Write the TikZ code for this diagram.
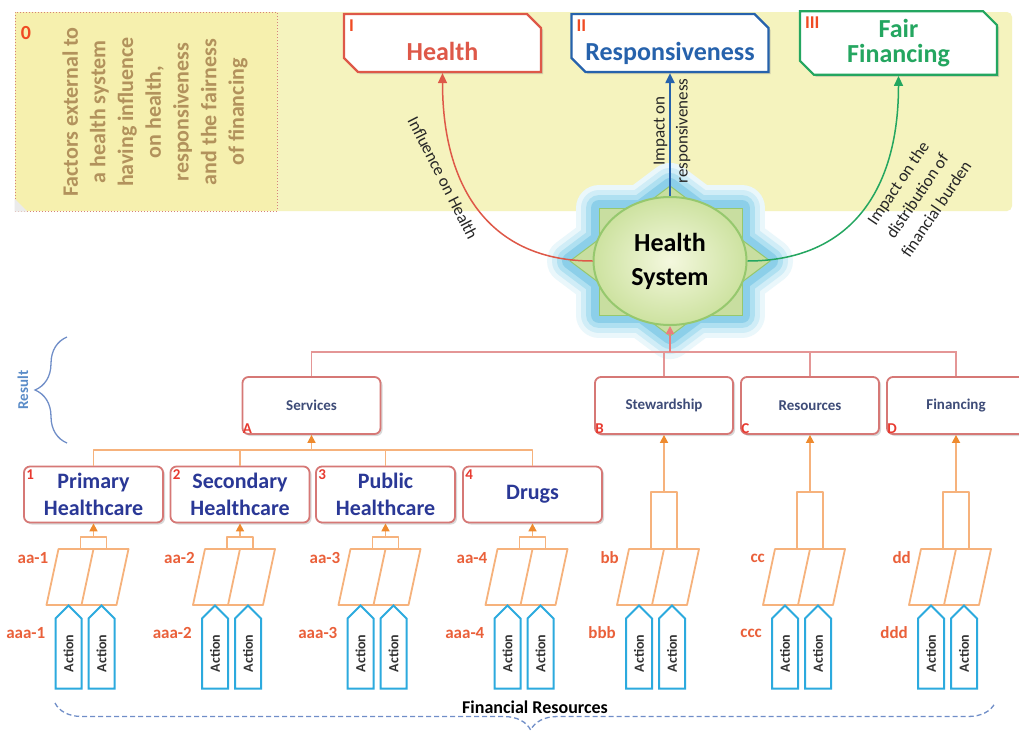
\documentclass[tikz,border=0pt]{standalone}
\usepackage{fontspec}
\setmainfont{Carlito}
\usepackage{xcolor}
\usepackage{tikz}
\usetikzlibrary{decorations.pathreplacing}
\usetikzlibrary{positioning, calc, arrows.meta, shadows, shapes.misc, shapes.symbols, shapes.geometric}

\newcommand{\fsz}[2]{\fontsize{#1}{#2}\selectfont}

\begin{document}
\begin{tikzpicture}[x=1pt, y=-1pt,
        topbox/.style={chamfered rectangle, chamfered rectangle corners={north east, south west},
            chamfered rectangle xsep=7pt, chamfered rectangle ysep=7pt,
            fill=white, line width=2.2pt, minimum width=197pt, minimum height=58pt,
            inner sep=1pt, align=center, font=\bfseries\fsz{26}{25},
            drop shadow={opacity=.3, shadow xshift=2pt, shadow yshift=-2pt}},
        sunk/.style={text height=38pt, text depth=3pt},
        midbox/.style={draw=boxred, line width=1.8pt, fill=white, rounded corners=6pt,
            minimum width=138pt, minimum height=57pt, text=midtext, font=\bfseries\fsz{15}{17},
            drop shadow={opacity=.3, shadow xshift=2pt, shadow yshift=-2pt}},
        lowbox/.style={midbox, minimum width=139pt, minimum height=56pt, inner sep=1pt,
            align=center, text=lowtext, font=\bfseries\fsz{22}{27}},
        roman/.style={text=numred, font=\bfseries\fsz{18}{18}, inner sep=1pt},
        letter/.style={text=letred, font=\bfseries\fsz{15}{15}, inner sep=1pt},
        arrowlab/.style={text=black!85, font=\fsz{17}{23}, inner sep=1pt, align=center},
        treeline/.style={draw=treered, line width=1.8pt},
        cell/.style={draw=cellor, line width=1.8pt, line join=round},
        orarrow/.style={draw=cellor, line width=1.6pt, -{Triangle[length=8pt, width=8pt, color=tipor]}},
        cellno/.style={text=labor, font=\bfseries\fsz{17}{17}, inner sep=1pt},
        action/.style={signal, signal to=east, draw=actblue, line width=2pt, fill=white,
            minimum width=83pt, minimum height=26pt, inner sep=1pt, rotate=90,
            text=black!80, font=\bfseries\fsz{14}{14}},
    ]
    % colours
    \definecolor{yellowbg}{RGB}{245,243,190}
    \definecolor{notefill}{RGB}{246,240,174}
    \definecolor{notered}{RGB}{214,130,120}
    \definecolor{notebrown}{RGB}{178,146,92}
    \definecolor{numred}{RGB}{240,75,35}
    \definecolor{healthred}{RGB}{222,88,72}
    \definecolor{respblue}{RGB}{38,98,172}
    \definecolor{fairgreen}{RGB}{36,166,96}
    \definecolor{hsgreen}{RGB}{150,200,110}
    \definecolor{hsin}{RGB}{244,248,222}
    \definecolor{hsout}{RGB}{205,226,160}
    \definecolor{starfill}{RGB}{200,222,160}
    \definecolor{glowa}{RGB}{234,247,251}
    \definecolor{glowb}{RGB}{208,237,247}
    \definecolor{glowc}{RGB}{175,224,241}
    \definecolor{glowd}{RGB}{140,207,233}
    \definecolor{boxred}{RGB}{214,120,118}
    \definecolor{treered}{RGB}{228,150,150}
    \definecolor{treetip}{RGB}{235,125,125}
    \definecolor{midtext}{RGB}{62,76,120}
    \definecolor{lowtext}{RGB}{42,56,150}
    \definecolor{cellor}{RGB}{246,178,124}
    \definecolor{tipor}{RGB}{238,138,46}
    \definecolor{labor}{RGB}{234,96,58}
    \definecolor{actblue}{RGB}{44,170,222}
    \definecolor{braceblue}{RGB}{112,142,200}
    \definecolor{resultblue}{RGB}{90,140,200}
    \definecolor{letred}{RGB}{232,58,48}

    \useasboundingbox (0,0) rectangle (1019,731);
    \clip (0,0) rectangle (1019,731);
    \fill[white] (0,0) rectangle (1019,731);

    % yellow band behind the goals
    \fill[yellowbg, rounded corners=5pt] (15,12) rectangle (1012,211);

    % 0. external factors
    \node[draw=notered, dotted, line width=1pt, fill=notefill, minimum width=262pt,
        minimum height=199pt, inner sep=0pt] (note) at (146,111.5) {};
    \fill[white!92!black] (note.south west) -- ++(0,-13) -- ++(13,13) -- cycle;
    \node[text=numred, font=\bfseries\fsz{20}{20}, inner sep=0pt] (zero) at (26,33) {0};
    \node[rotate=90, align=center, text=notebrown, font=\bfseries\fsz{22}{27.7}] (notetxt) at (155,112)
        {Factors external to\\a health system\\having influence\\on health,\\responsiveness\\and the fairness\\of financing};

    % I, II, III the three goals
    \node[topbox, draw=healthred, text=healthred, sunk] (health) at (442.5,43) {Health};
    \node[topbox, draw=respblue, text=respblue, sunk] (respons) at (670,43) {Responsiveness};
    \node[topbox, draw=fairgreen, text=fairgreen] (fairfin) at (898.5,43) {Fair\\Financing};
    \foreach \nm/\rn in {health/I, respons/II, fairfin/III}
        \node[roman, anchor=north west, xshift=5pt, yshift=-6pt] (\nm-no) at (\nm.north west) {\rn};

    % health system star with its glow
    \foreach \w/\c in {46/glowa, 36/glowb, 26/glowc, 16/glowd} {
        \filldraw[draw=\c, fill=\c, line width=\w pt, line join=round] (599,208) rectangle (742,315);
        \filldraw[draw=\c, fill=\c, line width=\w pt, line join=round]
            (670,186) -- (770,261) -- (670,336) -- (570,261) -- cycle;
    }
    \filldraw[fill=starfill, draw=hsgreen, line width=1pt] (599,208) rectangle (742,315);
    \filldraw[fill=starfill, draw=hsgreen, line width=1pt]
        (670,186) -- (770,261) -- (670,336) -- (570,261) -- cycle;
    \node[ellipse, shade, inner color=hsin, outer color=hsout, draw=hsgreen, line width=2pt,
        minimum width=153pt, minimum height=128pt, inner sep=0pt, align=center,
        font=\bfseries\fsz{26}{34}] (hsys) at (670,261) {Health\\System};

    % impacts on the goals
    \draw[healthred, line width=1.5pt, -{Triangle[length=10pt, width=9pt]}]
        (hsys.west) .. controls +(-100,0) and +(0,118) .. (health.south);
    \draw[respblue, line width=2pt, -{Triangle[length=10pt, width=9pt]}] (hsys.north) -- (respons.south);
    \draw[fairgreen, line width=1.5pt, -{Triangle[length=10pt, width=9pt]}]
        (hsys.east) .. controls +(100,0) and +(0,118) .. (fairfin.south);
    \node[arrowlab, rotate=-63] (inflab) at (443,178) {Influence on Health};
    \node[arrowlab, rotate=90] (resplab) at (672,131) {Impact on\\responsiveness};
    \node[arrowlab, rotate=56] (fairlab) at (917,196) {Impact on the\\distribution of\\financial burden};

    % A-D functions
    \foreach \nm/\txt/\x/\lt in {services/Services/311.5/A, stewardship/Stewardship/664/B,
            resources/Resources/810/C, financing/Financing/956/D} {
        \node[midbox] (\nm) at (\x,405.5) {\txt};
        \node[letter, anchor=south west] (\nm-lt) at (\nm.south west) {\lt};
    }
    \coordinate (hsjoin) at (670,352);
    \draw[treeline] (services.north) |- (hsjoin) -| (financing.north);
    \draw[treeline] (stewardship.north) -- (stewardship.north |- hsjoin);
    \draw[treeline] (resources.north) -- (resources.north |- hsjoin);
    \draw[treeline, draw=treetip, -{Triangle[length=8pt, width=8pt]}] (hsjoin) -- (hsys.south);

    % 1-4 services
    \foreach \nm/\txt/\x/\no in {primary/{Primary\\Healthcare}/93.5/1, secondary/{Secondary\\Healthcare}/240/2,
            public/{Public\\Healthcare}/385.5/3, drugs/Drugs/532.5/4} {
        \node[lowbox] (\nm) at (\x,494.5) {\txt};
        \node[letter, anchor=north west, xshift=2pt, yshift=-3pt] (\nm-no) at (\nm.north west) {\no};
    }
    \coordinate (svjoin) at (311.5,450);
    \draw[cell] (primary.north) |- (svjoin) -| (drugs.north);
    \draw[cell] (secondary.north) -- (secondary.north |- svjoin);
    \draw[cell] (public.north) -- (public.north |- svjoin);
    \draw[orarrow] (svjoin) -- (services.south);

    % cells and actions under every box
    \foreach \tx/\bx/\bk/\lab/\alab in {93.5/primary/537/aa-1/aaa-1, 240/secondary/537/aa-2/aaa-2,
            385.5/public/537/aa-3/aaa-3, 532.5/drugs/537/aa-4/aaa-4, 664/stewardship/492/bb/bbb,
            810/resources/492/cc/ccc, 956/financing/492/dd/ddd} {
        \draw[cell] (\tx-47,605) -- (\tx-35,549) -- (\tx+35,549) -- (\tx+23,605) -- cycle
            (\tx-12,605) -- (\tx,549);
        \coordinate (\bx-top) at (\tx,\bk);
        \draw[cell] (\tx-13,549) -- (\tx-13,\bk) -- (\tx+13,\bk) -- (\tx+13,549);
        \draw[orarrow] (\bx-top) -- (\bx.south);
        \node[cellno, anchor=east] (\bx-lab) at (\tx-44,558) {\lab};
        \node[cellno, anchor=east] (\bx-alab) at (\tx-47,633) {\alab};
        \node[action] (\bx-act1) at (\tx-25,653.5) {Action};
        \node[action] (\bx-act2) at (\tx+8,653.5) {Action};
    }

    % braces
    \draw[braceblue, line width=1.3pt, decorate, decoration={brace, amplitude=32pt}] (67,443) -- (67,337);
    \node[text=resultblue, rotate=90, font=\bfseries\fsz{15}{15}] (result) at (23,390) {Result};
    \draw[braceblue, line width=1.3pt, dash pattern=on 5pt off 3pt, decorate,
        decoration={brace, mirror, amplitude=27pt, aspect=0.506}] (55,703) -- (995,703);
    \node[font=\bfseries\fsz{18}{18}, inner sep=0pt] (finres) at (535,707) {Financial Resources};
\end{tikzpicture}
\end{document}
